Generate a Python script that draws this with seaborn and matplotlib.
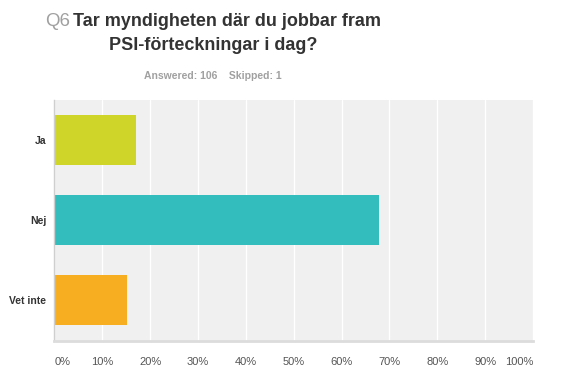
import matplotlib
matplotlib.use("Agg")
import matplotlib.pyplot as plt
import seaborn as sns
import pandas as pd

# answer options and response shares (percent of 106 answered)
categories = ["Ja", "Nej", "Vet inte"]
percent = [16.98, 67.92, 15.09]
colors = ["#d0d52a", "#33bebd", "#f7af21"]
tick_labels = ["0%", "10%", "20%", "30%", "40%", "50%", "60%", "70%", "80%", "90%", "100%"]

df = pd.DataFrame({"svar": categories, "andel": percent})

sns.set_style("white")
plt.rcParams["font.family"] = ["Liberation Sans", "DejaVu Sans"]

W, H = 580, 389
fig = plt.figure(figsize=(W / 100, H / 100), dpi=100)
ax = fig.add_axes([54.5 / W, 1 - 340.5 / H, 478.5 / W, 240.5 / H])
ax.set_facecolor("#f0f0f0")

sns.barplot(data=df, x="andel", y="svar", hue="svar", palette=colors,
            orient="h", width=0.625, legend=False, ax=ax, saturation=1,
            linewidth=0)

ax.set_xlim(0, 100)
ax.set_ylim(2.5, -0.5)
ax.set_xticks(range(0, 101, 10))
ax.set_xticklabels(tick_labels, fontsize=8, color="#555555")
labs = ax.get_xticklabels()
labs[0].set_ha("left")
labs[-1].set_ha("right")
ax.tick_params(axis="x", length=0, pad=12)
ax.tick_params(axis="y", length=0, pad=6)
for t in ax.get_yticklabels():
    t.set_fontsize(7.5)
    t.set_fontweight("bold")
    t.set_color("#333333")
ax.set_xlabel("")
ax.set_ylabel("")
ax.grid(axis="x", color="white", linewidth=1)
ax.set_axisbelow(True)
for s in ["top", "right"]:
    ax.spines[s].set_visible(False)
ax.spines["left"].set_color("#cfcfcf")
ax.spines["left"].set_linewidth(1)
ax.spines["bottom"].set_color("#dcdcdc")
ax.spines["bottom"].set_linewidth(2)

# title
fig.text(45 / W, 1 - 21 / H, "Q6", fontsize=13.5, color="#a0a0a0",
         ha="left", va="center")
fig.text(73 / W, 1 - 21 / H, "Tar myndigheten där du jobbar fram", fontsize=13,
         fontweight="bold", color="#333333", ha="left", va="center")
fig.text(213 / W, 1 - 45 / H, "PSI-förteckningar i dag?", fontsize=13,
         fontweight="bold", color="#333333", ha="center", va="center")
fig.text(213 / W, 1 - 76 / H, "Answered: 106    Skipped: 1", fontsize=7.5,
         fontweight="bold", color="#a0a0a0", ha="center", va="center")

fig.savefig("out.png", dpi=100)
